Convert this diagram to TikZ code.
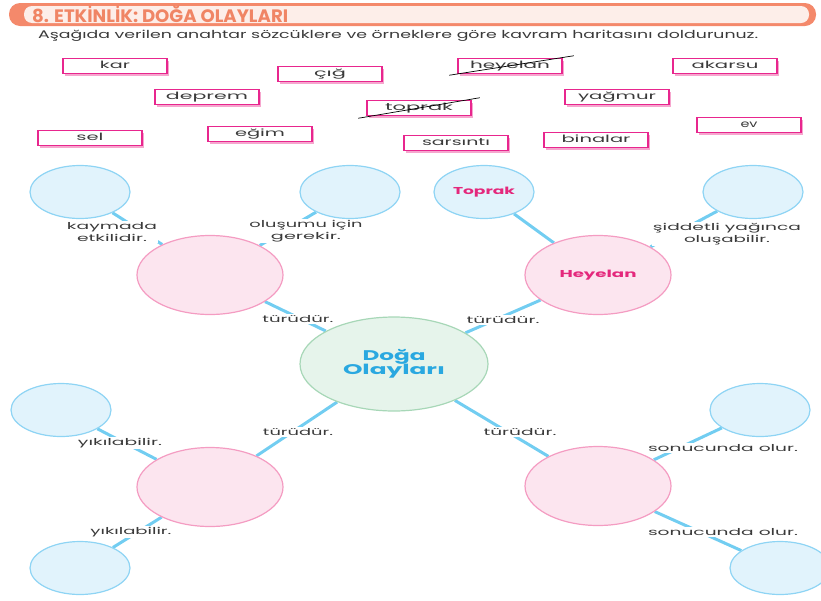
\documentclass[tikz,border=0pt]{standalone}
\usepackage{fontspec}
\usepackage{graphicx}
\setmainfont{Poppins}
\usetikzlibrary{shapes.geometric,shadows,backgrounds}
\pgfdeclarelayer{lbllayer}
\pgfsetlayers{background,lbllayer,main}
\newcommand\fitw[2]{\resizebox{#1pt}{\height}{#2}}
\definecolor{hdrline}{HTML}{F4896B}
\definecolor{hdrfill}{HTML}{FDEEE9}
\definecolor{hdrtext}{HTML}{F08565}
\definecolor{boxline}{HTML}{E8268E}
\definecolor{boxshadow}{HTML}{F6A6CE}
\definecolor{txt}{HTML}{3A3A3A}
\definecolor{bubline}{HTML}{8ED4F4}
\definecolor{bubfill}{HTML}{E1F3FC}
\definecolor{pinkline}{HTML}{F49CC2}
\definecolor{pinkfill}{HTML}{FCE5EF}
\definecolor{grnline}{HTML}{A7D7B7}
\definecolor{grnfill}{HTML}{E6F4EB}
\definecolor{conn}{HTML}{72CDF1}
\definecolor{magtext}{HTML}{E4287C}
\definecolor{bluetext}{HTML}{2AA8E0}
\tikzset{
  wordbox/.style={draw=boxline, line width=1.5pt, fill=white, minimum width=104pt, minimum height=15pt, inner sep=0pt,
    text height=7pt, text depth=2pt,
    text=txt, font=\fontsize{10}{10}\selectfont,
    drop shadow={shadow xshift=2pt, shadow yshift=-2pt, fill=boxshadow, opacity=1}},
  bubble/.style={ellipse, draw=bubline, fill=bubfill, line width=1.2pt, minimum width=100pt, minimum height=53pt, inner sep=0pt},
  pinkbub/.style={ellipse, draw=pinkline, fill=pinkfill, line width=1.2pt, minimum width=146pt, minimum height=79pt, inner sep=0pt},
  centerbub/.style={ellipse, draw=grnline, fill=grnfill, line width=1.2pt, minimum width=188pt, minimum height=94pt, inner sep=0pt,
    text=bluetext, font=\bfseries\fontsize{14}{14}\selectfont, align=center},
  lbl/.style={fill=white, inner sep=1pt, text=txt, font=\fontsize{9.5}{12}\selectfont, align=center},
  link/.style={draw=conn, line width=3pt},
  strike/.style={draw=black, line width=0.7pt},
  magname/.style={text=magtext, font=\bfseries\fontsize{10}{10}\selectfont}
}
\begin{document}
\begin{tikzpicture}[x=1pt,y=-1pt]
\useasboundingbox (0,0) rectangle (821,600);
% header
\fill[hdrline, rounded corners=11pt] (9,3) rectangle (816,26);
\fill[hdrfill, rounded corners=8pt] (24,6) rectangle (809,23);
\node[anchor=west, inner sep=0pt, text=hdrtext, font=\bfseries\fontsize{18}{18}\selectfont] (title) at (32,14.5) {\fitw{256}{8. ETKİNLİK: DOĞA OLAYLARI}};
\node[anchor=west, inner sep=0pt, text=txt, font=\fontsize{11}{11}\selectfont] (instr) at (38,36) {\fitw{720}{Aşağıda verilen anahtar sözcüklere ve örneklere göre kavram haritasını doldurunuz.}};
% word boxes
\node[wordbox] (wkar) at (115,66) {\fitw{30}{kar}};
\node[wordbox] (wcig) at (330,74) {\fitw{32}{çığ}};
\node[wordbox] (wdeprem) at (207,97) {\fitw{82}{deprem}};
\node[wordbox] (wtoprak) at (419,108) {\fitw{68}{toprak}};
\node[wordbox] (wsel) at (90,138) {\fitw{27}{sel}};
\node[wordbox] (wegim) at (260,134) {\fitw{50}{eğim}};
\node[wordbox] (wsarsinti) at (456,143) {\fitw{68}{sarsıntı}};
\node[wordbox] (wheyelan) at (510,66) {\fitw{80}{heyelan}};
\node[wordbox] (wakarsu) at (725,66) {\fitw{67}{akarsu}};
\node[wordbox] (wyagmur) at (617,97) {\fitw{78}{yağmur}};
\node[wordbox] (wev) at (749,125) {\fitw{17}{ev}};
\node[wordbox] (wbinalar) at (596,140) {\fitw{69}{binalar}};
\draw[strike] ([xshift=-8pt,yshift=-2pt]wtoprak.south west) -- ([xshift=8pt,yshift=2pt]wtoprak.north east);
\draw[strike] ([xshift=-8pt,yshift=-1pt]wheyelan.south west) -- ([xshift=11pt,yshift=2pt]wheyelan.north east);
% bubbles
\node[bubble] (b1) at (80,192) {};
\node[bubble] (b2) at (350,192) {};
\node[bubble, magname] (b3) at (484,192) {\fitw{62}{Toprak}};
\node[bubble] (b4) at (753,192) {};
\node[pinkbub] (p1) at (210,275) {};
\node[pinkbub, magname] (p2) at (598,275) {\fitw{77}{Heyelan}};
\node[centerbub] (c) at (394,364) {\fitw{63}{Doğa}\\[-1pt]\fitw{102}{Olayları}};
\node[bubble] (b5) at (61,410) {};
\node[pinkbub] (p3) at (210,487) {};
\node[bubble] (b6) at (80,568) {};
\node[pinkbub] (p4) at (598,486) {};
\node[bubble] (b7) at (760,410) {};
\node[bubble] (b8) at (780,568) {};
% connectors
\begin{scope}[on background layer]
\draw[link] (b1) -- (p1);
\draw[link] (b2) -- (p1);
\draw[link] (p1) -- (c);
\draw[link] (b3) -- (p2);
\draw[link] (b4) -- (p2);
\draw[link] (p2) -- (c);
\draw[link] (c) -- (p3);
\draw[link] (b5) -- (p3);
\draw[link] (p3) -- (b6);
\draw[link] (c) -- (p4);
\draw[link] (p4) -- (b7);
\draw[link] (p4) -- (b8);
\end{scope}
% labels
\begin{pgfonlayer}{lbllayer}
\node[lbl] (l1) at (112,232) {\fitw{90}{kaymada}\\\fitw{70}{etkilidir.}};
\node[lbl] (l2) at (306,231) {\fitw{113}{oluşumu için}\\\fitw{70}{gerekir.}};
\node[lbl] (l3) at (298,319) {\fitw{71}{türüdür.}};
\node[lbl] (l4) at (727,234) {\fitw{148}{şiddetli yağınca}\\\fitw{86}{oluşabilir.}};
\node[lbl] (l5) at (503,320) {\fitw{73}{türüdür.}};
\node[lbl] (l6) at (298,432) {\fitw{70}{türüdür.}};
\node[lbl] (l7) at (520,432) {\fitw{73}{türüdür.}};
\node[lbl] (l8) at (120,443) {\fitw{84}{yıkılabilir.}};
\node[lbl] (l9) at (131,532) {\fitw{81}{yıkılabilir.}};
\node[lbl] (l10) at (723,448) {\fitw{150}{sonucunda olur.}};
\node[lbl] (l11) at (723,532) {\fitw{150}{sonucunda olur.}};
\end{pgfonlayer}
\end{tikzpicture}
\end{document}
